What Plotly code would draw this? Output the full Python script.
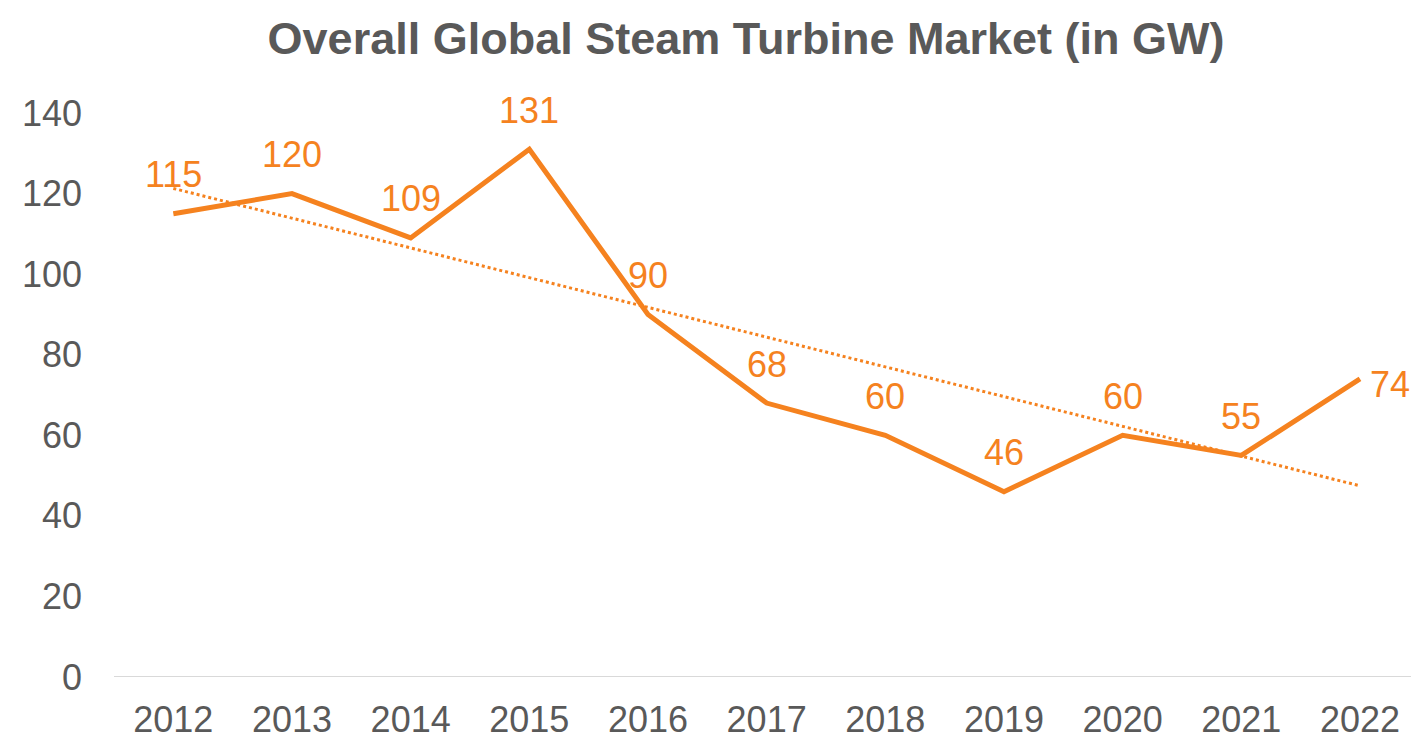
import numpy as np
import plotly.graph_objects as go

years = ["2012", "2013", "2014", "2015", "2016", "2017", "2018", "2019", "2020", "2021", "2022"]
market_gw = [115, 120, 109, 131, 90, 68, 60, 46, 60, 55, 74]
y_ticks = [0, 20, 40, 60, 80, 100, 120, 140]

ORANGE = "#F5821F"
GRAY = "#595959"
FONT = "Liberation Sans, Arial, sans-serif"

idx = np.arange(len(market_gw))
slope, intercept = np.polyfit(idx, market_gw, 1)
trend = slope * idx + intercept

fig = go.Figure()
fig.add_trace(go.Scatter(x=years, y=trend, mode="lines",
                         line=dict(color=ORANGE, width=3, dash="dot"),
                         hoverinfo="skip", showlegend=False))
fig.add_trace(go.Scatter(x=years, y=market_gw, mode="lines",
                         line=dict(color=ORANGE, width=5),
                         showlegend=False))

for i, v in enumerate(market_gw):
    last = i == len(market_gw) - 1
    fig.add_annotation(x=i, y=v, text=str(v), showarrow=False,
                       font=dict(family=FONT, size=36, color=ORANGE),
                       xanchor="left" if last else "center",
                       yanchor="middle",
                       xshift=8 if last else 0,
                       yshift=-6 if last else 39)

fig.update_layout(
    width=1411, height=736,
    margin=dict(l=114, r=0, t=113, b=59),
    paper_bgcolor="white", plot_bgcolor="white",
    font=dict(family=FONT, color=GRAY, size=36),
    title=dict(text="<b>Overall Global Steam Turbine Market (in GW)</b>",
               x=746 / 1411, xanchor="center", y=1 - 38 / 736, yanchor="middle",
               yref="container",
               font=dict(family=FONT, size=45, color=GRAY)),
    xaxis=dict(type="category", range=[-0.5, 10.43], showgrid=False,
               showline=False, zeroline=False, ticks="", automargin=False,
               tickfont=dict(size=36, color=GRAY), ticklabelstandoff=18),
    yaxis=dict(range=[0, 140], tickvals=y_ticks, showgrid=False,
               showline=False, zeroline=False, ticks="", automargin=False,
               tickfont=dict(size=36, color=GRAY), ticklabelstandoff=31),
)
fig.add_shape(type="line", xref="paper", yref="y", x0=0, x1=1, y0=0, y1=0,
              line=dict(color="#D9D9D9", width=2), layer="below")

fig.write_html("out.html", config={"displayModeBar": False},
               post_script="document.body.style.margin='0';document.body.style.overflow='hidden';")
